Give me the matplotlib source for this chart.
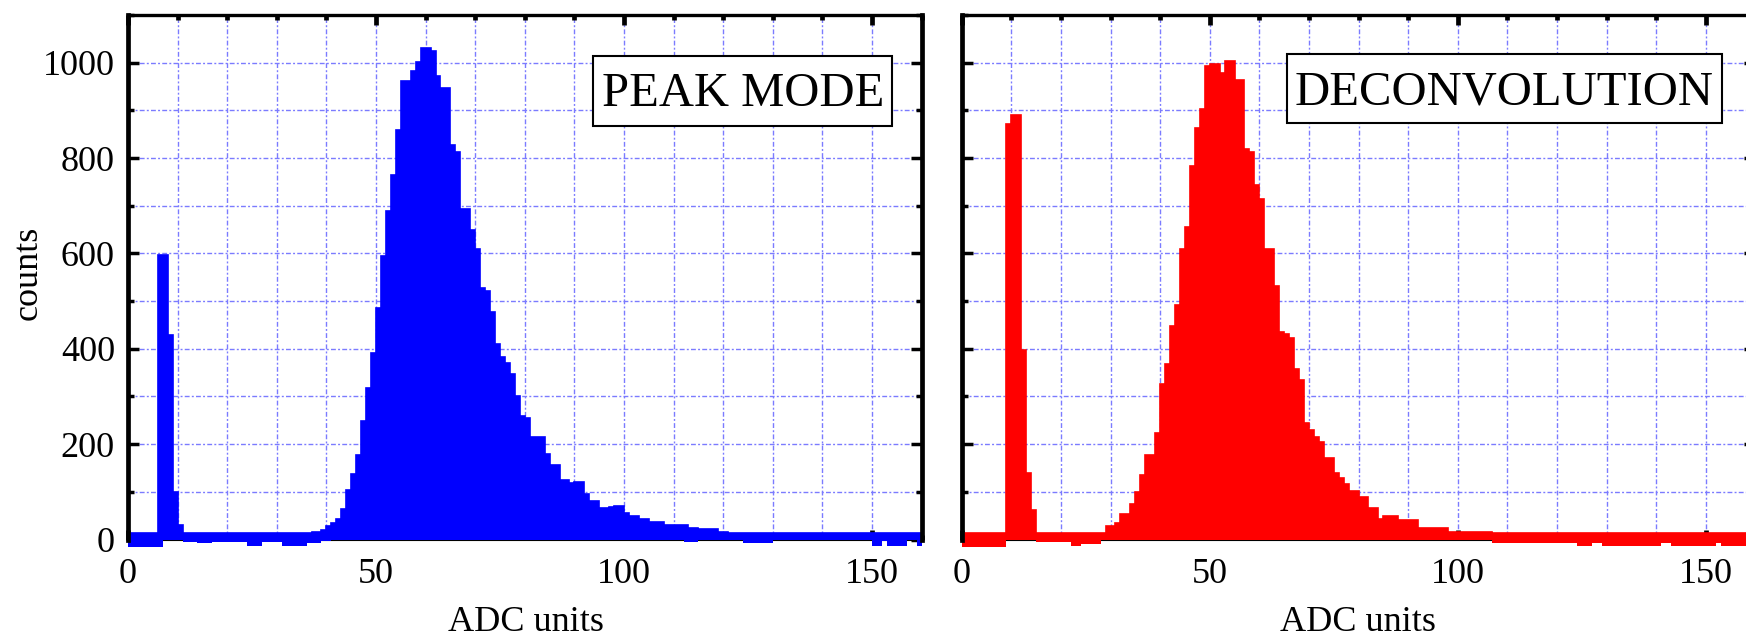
import numpy as np
import matplotlib
matplotlib.use("Agg")
import matplotlib.pyplot as plt
from matplotlib.ticker import MultipleLocator, FixedLocator
from matplotlib.patches import Rectangle

plt.rcParams['font.family'] = ['Liberation Serif', 'DejaVu Serif']

# 1-ADC-unit bins from 0 to 160
bin_edges = np.arange(0, 161)

# bin contents (positive part) for the two readout modes
peak_counts = [
    14, 14, 14, 14, 14, 14, 597, 597, 428, 100,
    30, 14, 14, 14, 13, 13, 13, 14, 14, 14,
    14, 14, 14, 14, 13, 13, 13, 14, 14, 14,
    14, 13, 13, 13, 13, 13, 14, 15, 16, 20,
    29, 35, 43, 64, 104, 138, 178, 248, 317, 392,
    486, 595, 689, 765, 859, 962, 962, 982, 1001, 1030,
    1030, 1025, 972, 947, 947, 828, 813, 694, 694, 650,
    610, 527, 521, 477, 411, 382, 371, 347, 302, 259,
    254, 215, 215, 215, 179, 156, 156, 125, 125, 118,
    120, 120, 95, 81, 81, 66, 66, 68, 70, 70,
    55, 50, 50, 44, 44, 36, 36, 36, 30, 30,
    30, 30, 30, 25, 25, 21, 21, 21, 21, 15,
    15, 14, 14, 14, 14, 14, 14, 14, 14, 14,
    14, 14, 14, 14, 14, 14, 14, 14, 14, 14,
    14, 14, 14, 14, 14, 14, 14, 14, 14, 14,
    14, 14, 14, 14, 14, 14, 14, 14, 14, 14,
]

deconv_counts = [
    14, 14, 14, 14, 14, 14, 14, 14, 14, 872,
    890, 890, 398, 140, 62, 14, 14, 14, 14, 14,
    14, 14, 14, 14, 14, 14, 14, 14, 14, 28,
    28, 35, 54, 54, 75, 100, 136, 177, 178, 223,
    327, 368, 448, 492, 610, 655, 784, 863, 903, 992,
    998, 998, 978, 1003, 1003, 963, 963, 819, 812, 744,
    714, 610, 610, 532, 436, 432, 423, 358, 334, 244,
    230, 214, 205, 170, 170, 140, 130, 116, 102, 102,
    90, 90, 66, 66, 44, 50, 50, 50, 41, 41,
    41, 41, 25, 25, 25, 25, 25, 25, 15, 15,
    15, 15, 15, 15, 15, 15, 15, 14, 14, 14,
    14, 14, 14, 14, 14, 14, 14, 14, 14, 14,
    14, 14, 14, 14, 14, 14, 14, 14, 14, 14,
    14, 14, 14, 14, 14, 14, 14, 14, 14, 14,
    14, 14, 14, 14, 14, 14, 14, 14, 14, 14,
    14, 14, 14, 14, 14, 14, 14, 14, 14, 14,
]

# negative excursions below zero in the pedestal / tail regions
peak_negative = [
    -15, -15, -15, -15, -15, -15, -15, 0, 0, 0,
    0, -5, -5, -5, -8, -8, -8, -5, -5, -5,
    -5, -5, -5, -5, -14, -14, -14, -5, -5, -5,
    -5, -14, -14, -14, -14, -14, -8, -8, -8, -3,
    -3, 0, 0, 0, 0, 0, 0, 0, 0, 0,
    0, 0, 0, 0, 0, 0, 0, 0, 0, 0,
    0, 0, 0, 0, 0, 0, 0, 0, 0, 0,
    0, 0, 0, 0, 0, 0, 0, 0, 0, 0,
    0, 0, 0, 0, 0, 0, 0, 0, 0, 0,
    0, 0, 0, 0, 0, 0, 0, 0, 0, 0,
    0, 0, 0, 0, 0, 0, 0, 0, 0, 0,
    0, 0, -5, -5, -5, 0, 0, 0, 0, 0,
    0, 0, 0, 0, -8, -8, -8, -8, -8, -8,
    0, 0, 0, 0, 0, 0, 0, 0, 0, 0,
    0, 0, 0, 0, 0, 0, 0, 0, 0, 0,
    -13, -13, -3, -13, -13, -13, -13, 0, 0, -13,
]

deconv_negative = [
    -15, -15, -15, -15, -15, -15, -15, -15, -15, 0,
    0, 0, 0, 0, 0, -6, -6, -6, -6, -6,
    -6, -6, -13, -13, -9, -9, -9, -9, -2, 0,
    0, 0, 0, 0, 0, 0, 0, 0, 0, 0,
    0, 0, 0, 0, 0, 0, 0, 0, 0, 0,
    0, 0, 0, 0, 0, 0, 0, 0, 0, 0,
    0, 0, 0, 0, 0, 0, 0, 0, 0, 0,
    0, 0, 0, 0, 0, 0, 0, 0, 0, 0,
    0, 0, 0, 0, 0, 0, 0, 0, 0, 0,
    0, 0, 0, 0, 0, 0, 0, 0, 0, 0,
    0, 0, 0, 0, 0, 0, 0, -8, -8, -8,
    -8, -8, -8, -8, -8, -8, -8, -8, -8, -8,
    -8, -8, -8, -8, -14, -14, -14, -8, -8, -14,
    -14, -14, -14, -14, -14, -14, -14, -14, -14, -14,
    -14, -8, -8, -14, -14, -14, -14, -14, -14, -14,
    -14, -14, -8, -14, -14, -14, -14, -14, -14, -14,
]

x_major = [0, 50, 100, 150]
y_major = [0, 200, 400, 600, 800, 1000]

W, H = 1746, 636
fig = plt.figure(figsize=(W / 100, H / 100), dpi=100)


def px_rect(x0, x1, ytop, ybot):
    return [x0 / W, 1 - ybot / H, (x1 - x0) / W, (ybot - ytop) / H]


def draw_panel(ax, counts, negative, color, title, box, text_xy,
               show_ylabels):
    ax.set_axisbelow(True)
    ax.stairs(counts, bin_edges, fill=True, color=color, lw=0, zorder=2)
    ax.stairs(negative, bin_edges, fill=True, color=color, lw=0, zorder=2,
              clip_on=False)
    ax.stairs(counts, bin_edges, color=color, lw=1.2, zorder=3,
              clip_on=False)
    ax.set_xlim(0, 160)
    ax.set_ylim(0, 1100)

    ax.xaxis.set_major_locator(FixedLocator(x_major))
    ax.xaxis.set_minor_locator(MultipleLocator(10))
    ax.yaxis.set_major_locator(FixedLocator(y_major))
    ax.yaxis.set_minor_locator(MultipleLocator(100))

    ax.grid(True, which='both', color='#7b7bff', lw=1.0,
            linestyle=(0, (3.5, 1.6, 1.4, 1.6)))

    ax.tick_params(axis='x', which='major', direction='in', top=True,
                   length=7.5, width=3.4, labelsize=26, pad=13)
    ax.tick_params(axis='x', which='minor', direction='in', top=True,
                   length=3.8, width=3.4)
    ax.tick_params(axis='y', which='major', direction='in', right=True,
                   length=8.0, width=2.5, labelsize=26, pad=9.4,
                   labelleft=show_ylabels)
    ax.tick_params(axis='y', which='minor', direction='in', right=True,
                   length=4.0, width=2.5)

    for side in ('left', 'right'):
        ax.spines[side].set_linewidth(3.4)
    ax.spines['top'].set_linewidth(2.4)
    ax.spines['bottom'].set_linewidth(0.8)
    for sp in ax.spines.values():
        sp.set_zorder(1.8)
    ax.spines['left'].set_zorder(4)
    ax.spines['right'].set_zorder(4)

    bx0, bx1, by0, by1 = box
    ax.add_patch(Rectangle((bx0, by0), bx1 - bx0, by1 - by0,
                           transform=ax.transAxes, facecolor='white',
                           edgecolor='black', lw=1.5, zorder=5))
    ax.text(text_xy[0], text_xy[1], title, transform=ax.transAxes,
            ha='center', va='baseline', fontsize=35, zorder=6)


axL = fig.add_axes(px_rect(128, 921.6, 15, 539.5))
axR = fig.add_axes(px_rect(961.7, 1755.3, 15, 539.5))

draw_panel(axL, peak_counts, peak_negative, '#0000ff', 'PEAK MODE',
           (0.5864, 0.9632, 0.789, 0.9224), (0.7748, 0.8265), True)
draw_panel(axR, deconv_counts, deconv_negative, '#ff0000', 'DECONVOLUTION',
           (0.4095, 0.9577, 0.7947, 0.9256), (0.6836, 0.8303), False)

fig.text(28 / W, 1 - 273 / H, 'counts', rotation=90, ha='center',
         va='center', fontsize=26)
fig.text(525.8 / W, 1 - 631 / H, 'ADC units', ha='center',
         va='baseline', fontsize=26)
fig.text(1357.7 / W, 1 - 631 / H, 'ADC units', ha='center',
         va='baseline', fontsize=26)

fig.savefig('out.png', dpi=100)
